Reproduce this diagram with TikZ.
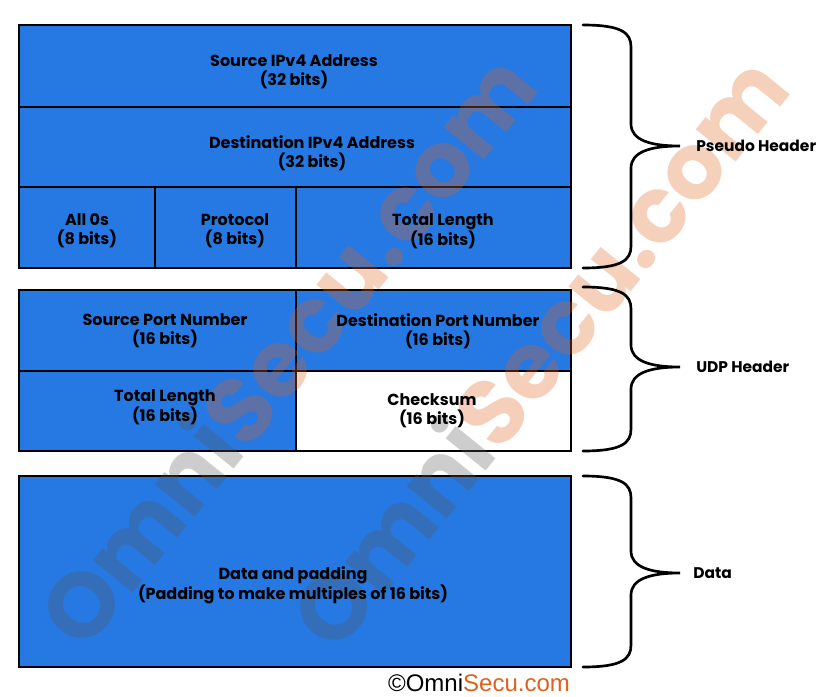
\documentclass[tikz,border=0pt]{standalone}
\usepackage{fontspec}
\setmainfont{Poppins}
\newfontfamily\logofont{Liberation Sans}
\definecolor{fieldblue}{RGB}{38,120,226}
\definecolor{secuorange}{RGB}{222,98,28}
\definecolor{wmgrey}{RGB}{90,90,90}
\tikzset{
  field/.style={fill=fieldblue, draw=black, line width=2.2pt},
  fieldtext/.style={align=center, inner sep=0pt, yshift=-1.5pt, font=\fontsize{12}{14.25}\selectfont\bfseries},
  bracelabel/.style={right, inner sep=0pt, font=\fontsize{11.6}{14}\selectfont\bfseries},
  bracket/.style={line width=2pt, line cap=round},
  watermark/.style={inner sep=0pt, rotate=51, text opacity=0.3, font=\fontsize{69}{69}\selectfont\bfseries},
  logo/.style={inner sep=0pt, font=\fontsize{18}{18}\selectfont\logofont}
}
\newcommand{\sidebrace}[3]{%
  \draw [bracket] (583,#1) .. controls (622,#1) and (631,#1+8) .. (631,#1+22) -- (631,#2-22)
    .. controls (631,#2-6) and (650,#2) .. (680,#2)
    .. controls (650,#2) and (631,#2+6) .. (631,#2+22) -- (631,#3-22)
    .. controls (631,#3-8) and (622,#3) .. (583,#3);
}
\begin{document}
\begin{tikzpicture}[x=0.75pt,y=-0.75pt]
\useasboundingbox (0,0) rectangle (824,696);

\draw [field] (19,25) rectangle (571,107);
\draw [field] (19,107) rectangle (571,187);
\draw [field] (19,187) rectangle (155,268);
\draw [field] (155,187) rectangle (296,268);
\draw [field] (296,187) rectangle (571,268);

\draw [field] (19,290) rectangle (296,371);
\draw [field] (296,290) rectangle (571,371);
\draw [field] (19,371) rectangle (296,451);
\draw [field, fill=white] (296,371) rectangle (571,451);

\draw [field] (19,476) rectangle (571,667);

\node [watermark] (wmleft) at (285,348) {\textcolor{wmgrey}{Omni}\textcolor{secuorange}{Secu.com}};
\node [watermark] (wmright) at (537,350) {\textcolor{wmgrey}{Omni}\textcolor{secuorange}{Secu.com}};

\node [fieldtext] (srcip) at (294,70) {Source IPv4 Address\\(32 bits)};
\node [fieldtext] (dstip) at (312,151) {Destination IPv4 Address\\(32 bits)};
\node [fieldtext] (zeros) at (87,229) {All 0s\\(8 bits)};
\node [fieldtext] (proto) at (235,229) {Protocol\\(8 bits)};
\node [fieldtext] (pslen) at (443,229) {Total Length\\(16 bits)};

\node [fieldtext] (srcport) at (165,329) {Source Port Number\\(16 bits)};
\node [fieldtext] (dstport) at (438,329) {Destination Port Number\\(16 bits)};
\node [fieldtext] (udplen) at (165,405) {Total Length\\(16 bits)};
\node [fieldtext] (csum) at (432,409) {Checksum\\(16 bits)};

\node [fieldtext] (payload) at (293,583) {Data and padding\\(Padding to make multiples of 16 bits)};

\sidebrace{25}{146}{268}
\sidebrace{287}{367}{451}
\sidebrace{476}{573}{667}

\node [bracelabel] (pseudo) at (696,146) {Pseudo Header};
\node [bracelabel] (udphdr) at (696,367) {UDP Header};
\node [bracelabel] (datalbl) at (693,573) {Data};

\node [logo] (copyright) at (479,683) {©Omni\textcolor{secuorange}{Secu.com}};

\end{tikzpicture}
\end{document}
